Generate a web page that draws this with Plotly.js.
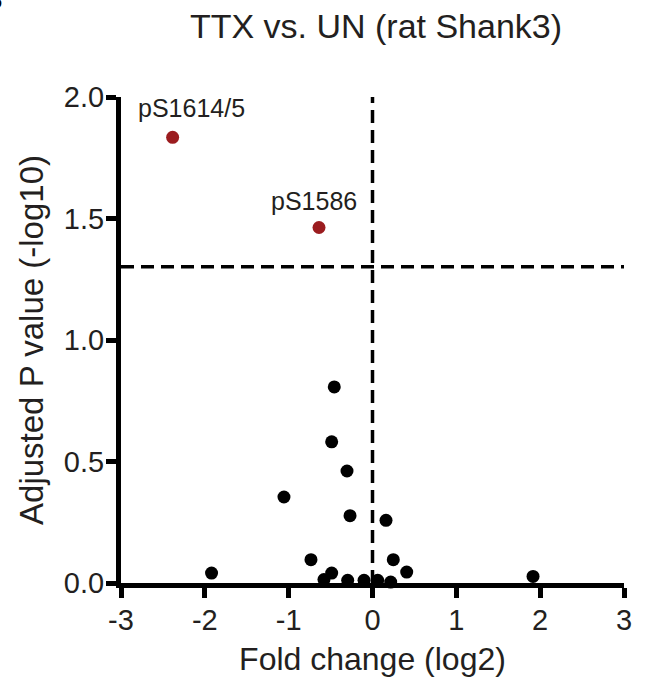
<!DOCTYPE html>
<html>
<head>
<meta charset="utf-8">
<script src="https://cdn.plot.ly/plotly-3.0.1.min.js"></script>
<style>html,body{margin:0;padding:0;background:#fff;}#chart{width:646px;height:688px;}</style>
</head>
<body>
<div id="chart"></div>
<script>
// Non-significant sites: log2 fold change and adjusted P value (-log10)
const nsFold = [-0.456, -0.487, -0.304, -1.056, -0.268, 0.161, -0.734, 0.248, 0.408, -1.92, -0.487, -0.579, -0.296, -0.101, 0.062, 0.217, 1.915];
const nsP    = [0.807, 0.581, 0.461, 0.354, 0.277, 0.258, 0.096, 0.096, 0.045, 0.041, 0.041, 0.014, 0.011, 0.011, 0.011, 0.004, 0.027];

// Significant sites
const sigLabels = ['pS1614/5', 'pS1586'];
const sigFold = [-2.384, -0.638];
const sigP    = [1.834, 1.463];

// Thresholds
const pThreshold = 1.301;  // -log10(0.05)
const foldThreshold = 0;

const xTicks = [-3, -2, -1, 0, 1, 2, 3];
const yTicks = [0, 0.5, 1.0, 1.5, 2.0];

const txt = '#231f20';
const fontFam = '"Liberation Sans", Arial, Helvetica, sans-serif';

const traces = [
  {
    x: nsFold, y: nsP, type: 'scatter', mode: 'markers',
    marker: {color: '#000000', size: 13},
    cliponaxis: false, hoverinfo: 'x+y'
  },
  {
    x: sigFold, y: sigP, type: 'scatter', mode: 'markers',
    marker: {color: '#9b1c1f', size: 13},
    cliponaxis: false, hoverinfo: 'x+y'
  }
];

const labelShift = [[19, 29], [-5, 26]];
const annotations = sigLabels.map((t, i) => ({
  x: sigFold[i], y: sigP[i], xref: 'x', yref: 'y', text: t, showarrow: false,
  xanchor: 'center', yanchor: 'middle', xshift: labelShift[i][0], yshift: labelShift[i][1],
  font: {family: fontFam, size: 25, color: txt}
}));
annotations.push({
  text: '<b>B</b>', xref: 'paper', yref: 'paper', x: -0.2306, y: 1.165,
  xanchor: 'right', yanchor: 'bottom', showarrow: false,
  font: {family: fontFam, size: 30, color: '#000'}
});

const layout = {
  width: 646, height: 688,
  margin: {l: 121, r: 22, t: 97, b: 105},
  paper_bgcolor: '#ffffff', plot_bgcolor: '#ffffff',
  showlegend: false,
  font: {family: fontFam, color: txt},
  title: {
    text: 'TTX vs. UN (rat Shank3)',
    font: {family: fontFam, size: 34, color: txt},
    xref: 'container', x: 376 / 646, xanchor: 'center',
    yref: 'container', y: 1 - 26 / 688, yanchor: 'middle'
  },
  xaxis: {
    range: [-3, 3], tickvals: xTicks, ticktext: xTicks.map(String),
    showgrid: false, zeroline: false,
    showline: true, linecolor: '#000', linewidth: 5,
    ticks: 'outside', ticklen: 10, tickwidth: 5, tickcolor: '#000',
    tickfont: {family: fontFam, size: 29, color: txt},
    ticklabelstandoff: -3,
    title: {text: 'Fold change (log2)', font: {family: fontFam, size: 32, color: txt}, standoff: 14},
    fixedrange: true
  },
  yaxis: {
    range: [0, 2], tickvals: yTicks, tickformat: '.1f',
    showgrid: false, zeroline: false,
    showline: true, linecolor: '#000', linewidth: 5,
    ticks: 'outside', ticklen: 10, tickwidth: 5, tickcolor: '#000',
    tickfont: {family: fontFam, size: 29, color: txt},
    ticklabelstandoff: -4,
    title: {text: 'Adjusted P value (-log10)', font: {family: fontFam, size: 33, color: txt}, standoff: 12},
    fixedrange: true
  },
  annotations: annotations,
  shapes: [
    {type: 'line', xref: 'x', yref: 'y', x0: -3, x1: 3, y0: pThreshold, y1: pThreshold,
     line: {color: '#000', width: 3.5, dash: '13px,7px'}},
    {type: 'line', xref: 'x', yref: 'y', x0: foldThreshold, x1: foldThreshold, y0: 0, y1: 2,
     line: {color: '#000', width: 3.5, dash: '13px,7px'}}
  ]
};

Plotly.newPlot('chart', traces, layout, {displayModeBar: false, staticPlot: true});
</script>
</body>
</html>
